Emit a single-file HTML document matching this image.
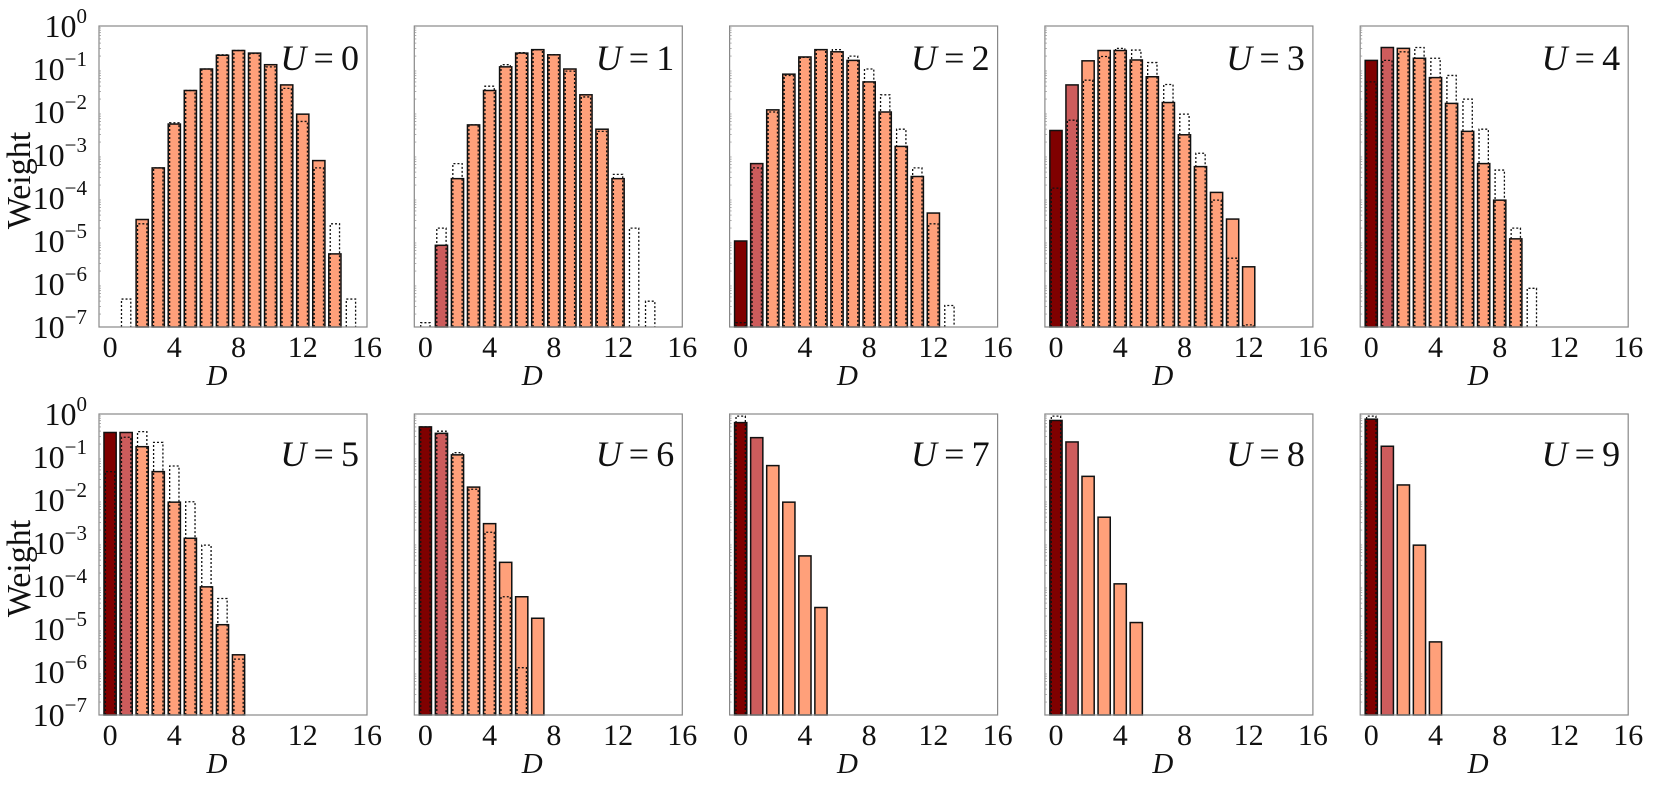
<!DOCTYPE html>
<html><head><meta charset="utf-8"><style>
html,body{margin:0;padding:0;background:#fff;}
svg{display:block;font-family:"Liberation Serif",serif;}
</style></head><body>
<svg id="c" width="1661" height="785" xmlns="http://www.w3.org/2000/svg"></svg>
<script>
// log10 of weights, index = D
const panelLabels = ["U = 0","U = 1","U = 2","U = 3","U = 4","U = 5","U = 6","U = 7","U = 8","U = 9"];
const solidU0 = [null,null,-4.5,-3.3,-2.28,-1.5,-1.0,-0.68,-0.57,-0.63,-0.9,-1.37,-2.05,-3.13,-5.3];
const solidU1 = [null,-5.1,-3.55,-2.3,-1.5,-0.95,-0.63,-0.55,-0.67,-1.0,-1.6,-2.4,-3.55];
const solidU2 = [-5.0,-3.2,-1.95,-1.12,-0.72,-0.55,-0.6,-0.8,-1.3,-2.0,-2.8,-3.5,-4.35];
const solidU3 = [-2.43,-1.37,-0.81,-0.57,-0.57,-0.79,-1.18,-1.78,-2.53,-3.27,-3.87,-4.49,-5.6];
const solidU4 = [-0.8,-0.5,-0.52,-0.75,-1.2,-1.8,-2.45,-3.2,-4.05,-4.95];
const solidU5 = [-0.43,-0.43,-0.76,-1.34,-2.05,-2.89,-4.02,-4.9,-5.6];
const solidU6 = [-0.3,-0.45,-0.95,-1.7,-2.55,-3.45,-4.25,-4.75];
const solidU7 = [-0.2,-0.55,-1.2,-2.05,-3.3,-4.5];
const solidU8 = [-0.15,-0.65,-1.45,-2.4,-3.95,-4.85];
const solidU9 = [-0.12,-0.75,-1.65,-3.05,-5.3];
const dotU0 = [null,-6.35,-4.6,-3.3,-2.25,-1.5,-1.0,-0.67,-0.57,-0.64,-0.95,-1.45,-2.22,-3.3,-4.6,-6.35];
const dotU1 = [-6.9,-4.7,-3.2,-2.3,-1.4,-0.9,-0.62,-0.55,-0.67,-1.05,-1.65,-2.45,-3.45,-4.7,-6.4];
const dotU2 = [-6.9,-3.3,-2.0,-1.15,-0.73,-0.55,-0.55,-0.7,-1.0,-1.6,-2.4,-3.3,-4.6,-6.5];
const dotU3 = [-3.77,-2.19,-1.26,-0.71,-0.52,-0.56,-0.85,-1.36,-2.05,-2.96,-4.05,-5.4,-6.95];
const dotU4 = [-1.3,-0.8,-0.6,-0.5,-0.75,-1.15,-1.7,-2.4,-3.35,-4.7,-6.1];
const dotU5 = [-1.34,-0.54,-0.41,-0.66,-1.21,-2.04,-3.05,-4.29,-5.7];
const dotU6 = [-0.3,-0.4,-0.9,-1.75,-2.75,-4.25,-5.9];
const dotU7 = [-0.05];
const dotU8 = [-0.05];
const dotU9 = [-0.05];
const xTicks = [0,4,8,12,16];
const yTicks = [0,-1,-2,-3,-4,-5,-6,-7];

const solids=[solidU0,solidU1,solidU2,solidU3,solidU4,solidU5,solidU6,solidU7,solidU8,solidU9];
const dots=[dotU0,dotU1,dotU2,dotU3,dotU4,dotU5,dotU6,dotU7,dotU8,dotU9];
const svg=document.getElementById('c');
const NS="http://www.w3.org/2000/svg";
function mk(t,a,p){const e=document.createElementNS(NS,t);for(const k in a)e.setAttribute(k,a[k]);(p||svg).appendChild(e);return e;}
const W=268,H=301,XMIN=-0.69,XMAX=16,YMIN=-7,YMAX=0;
const colors=["#7f0000","#cd5c5c","#ffa07a"];
for(let p=0;p<10;p++){
  const col=p%5,row=Math.floor(p/5);
  const L=99+col*315.3,T=row?414:26;
  const xs=v=>L+(v-XMIN)/(XMAX-XMIN)*W;
  const ys=v=>T+(YMAX-v)/(YMAX-YMIN)*H;
  const g=mk('g',{});
  
  
  const s=solids[p],d=dots[p];
  s.forEach((v,i)=>{ if(v===null)return;
    const r=mk('rect',{x:xs(i-0.38),y:ys(v),width:xs(i+0.38)-xs(i-0.38),height:ys(YMIN)-ys(v),fill:colors[Math.min(i,2)],stroke:'#111','stroke-width':1.5},g);
    
    
  });
  d.forEach((v,i)=>{ if(v===null)return;
    const x0=xs(i-0.29),x1=xs(i+0.29),y0=ys(v),yb=ys(YMIN);
    const pl=mk('path',{d:`M${x0},${yb}V${y0}H${x1}V${yb}`,fill:'none',stroke:'#111','stroke-width':1.3,'stroke-dasharray':'2,2'},g);
    
    
  });
  const fr=mk('rect',{x:L,y:T,width:W,height:H,fill:'none',stroke:'#888','stroke-width':1.2},g);
  
  
  for(let dcd=0;dcd<7;dcd++)for(let m=2;m<10;m++){const yy=ys(-dcd-1+Math.log10(m));mk('line',{x1:L,x2:L+2,y1:yy,y2:yy,stroke:'#999','stroke-width':0.8},g);}
  xTicks.forEach(t=>{
    const tx=mk('text',{x:xs(t),y:T+H+30,'font-size':30,'text-anchor':'middle',fill:'#111'},g);
    tx.textContent=t;
    
    
  });
  const xl=mk('text',{x:L+W*0.44,y:T+H+58,'font-size':29,'font-style':'italic','text-anchor':'middle',fill:'#111'},g);
  xl.textContent='D';
  
  
  const ul=mk('text',{x:L+W-8,y:T+(row?52:44),'font-size':36,'text-anchor':'end',fill:'#111'},g);
  ul.innerHTML='<tspan font-style="italic">U</tspan>\u2009=\u2009'+(p);
  
  
  if(col===0){
    yTicks.forEach(t=>{
      const tx=mk('text',{x:L-12,y:ys(t)+11,'font-size':32,'text-anchor':'end',fill:'#111'},g);
      tx.innerHTML='10<tspan dy="-14" font-size="21">'+(t===0?'0':'\u2212'+(-t))+'</tspan>';
      
      
    });
    const yl=mk('text',{x:0,y:0,'font-size':34,'text-anchor':'middle',fill:'#111',transform:`translate(30,${T+H*0.5+4}) rotate(-90)`},g);
    yl.textContent='Weight';
    
    
  }
}
</script>
</body></html>
